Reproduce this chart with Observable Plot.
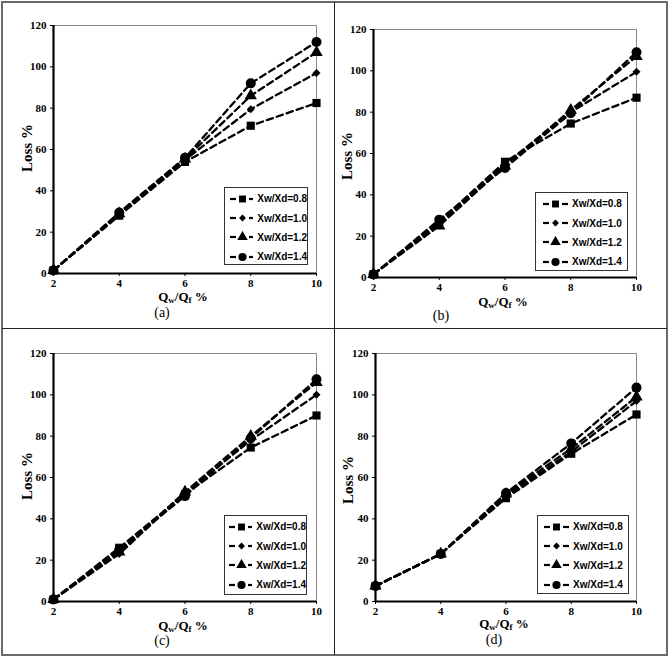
<!DOCTYPE html>
<html>
<head>
<meta charset="utf-8">
<script src="https://cdn.jsdelivr.net/npm/d3@7"></script>
<script src="https://cdn.jsdelivr.net/npm/@observablehq/plot@0.6"></script>
<style>
  body { margin: 0; background: #fff; }
  #root { position: relative; width: 669px; height: 657px; background: #fff; overflow: hidden; }
  .border { position: absolute; box-sizing: border-box; }
  .ylab { position: absolute; font-family: "Liberation Serif", "Times New Roman", serif; font-weight: bold; font-size: 15px; transform: translate(-50%, -50%) rotate(-90deg); white-space: nowrap; color: #000; }
  .xlab { position: absolute; font-family: "Liberation Serif", "Times New Roman", serif; font-weight: bold; font-size: 13px; transform: translate(-50%, -50%); white-space: nowrap; color: #000; }
  .xlab sub { font-size: 9px; vertical-align: -2px; }
  .cap { position: absolute; font-family: "Liberation Serif", "Times New Roman", serif; font-size: 14px; transform: translate(-50%, -50%); white-space: nowrap; color: #000; }
  .legend { position: absolute; box-sizing: border-box; border: 1px solid #333; background: #fff; padding-top: 1px; }
  .lrow { display: flex; align-items: center; height: 19.4px; font-family: "Liberation Sans", Arial, sans-serif; font-weight: bold; font-size: 10px; color: #000; white-space: nowrap; }
  .lrow svg { display: block; margin-right: 4px; }
</style>
</head>
<body>
<div id="root"></div>
<script>
// ---------- data ----------
const xValues = [2, 4, 6, 8, 10];
const yTicks = [0, 20, 40, 60, 80, 100, 120];
const seriesNames = ["Xw/Xd=0.8", "Xw/Xd=1.0", "Xw/Xd=1.2", "Xw/Xd=1.4"];
const panelNames = ["(a)", "(b)", "(c)", "(d)"];
const lossA = [
  [1.5, 28, 54, 71.5, 82.5],
  [1.5, 28.5, 55, 79.5, 97],
  [1.5, 29, 55.5, 86, 107],
  [1.5, 29.5, 56, 92, 112]
];
const lossB = [
  [1.5, 27, 56, 74.5, 87],
  [1.5, 26, 55, 80, 99.5],
  [1.5, 25, 54, 81, 107],
  [1.5, 28, 53, 79.5, 109]
];
const lossC = [
  [1, 26, 52, 74.5, 90],
  [1, 23, 52.5, 78, 100],
  [1, 24, 53, 80, 106],
  [1, 25, 51, 79, 107.5]
];
const lossD = [
  [7.5, 23, 50, 71.5, 90.5],
  [7.5, 23, 51, 72.5, 97],
  [7.5, 23, 52, 74, 99],
  [7.5, 23, 52.5, 76.5, 103.5]
];

// ---------- styling ----------
const symbols = [d3.symbolSquare, d3.symbolDiamond2, d3.symbolTriangle, d3.symbolCircle];
const radii = [4.6, 3.6, 4.6, 5];
const legendRadii = [3.9, 3.1, 3.9, 4.1];

// ---------- layout ----------
const layouts = [
  { loss: lossA, frame: {x: 53, y: 25, w: 263, h: 248}, yLab: {x: 27, y: 148}, xLab: {x: 183, y: 297}, cap: {x: 162, y: 313}, legend: {x: 224, y: 187, w: 84, h: 78, pad: 5} },
  { loss: lossB, frame: {x: 373, y: 29, w: 263, h: 248}, yLab: {x: 347, y: 156}, xLab: {x: 503, y: 302}, cap: {x: 441, y: 316}, legend: {x: 535, y: 192, w: 93, h: 79, pad: 7} },
  { loss: lossC, frame: {x: 53, y: 353, w: 263, h: 248}, yLab: {x: 27, y: 476}, xLab: {x: 183, y: 626}, cap: {x: 162, y: 641}, legend: {x: 224, y: 515, w: 83, h: 80, pad: 4} },
  { loss: lossD, frame: {x: 375, y: 353, w: 261, h: 248}, yLab: {x: 348, y: 480}, xLab: {x: 504, y: 624}, cap: {x: 494, y: 640}, legend: {x: 537, y: 515, w: 92, h: 79, pad: 6} }
];

const root = document.getElementById("root");

function addDiv(cls, css) {
  const d = document.createElement("div");
  d.className = cls;
  Object.assign(d.style, css);
  root.appendChild(d);
  return d;
}
// outer frame and dividers
addDiv("border", {left: "1px", top: "1px", width: "667px", height: "655px", border: "2px solid #6a6a6a"});
addDiv("border", {left: "334px", top: "2px", width: "1px", height: "653px", background: "#222"});
addDiv("border", {left: "2px", top: "328px", width: "665px", height: "1px", background: "#222"});

function glyph(s) {
  const svg = d3.create("svg").attr("width", 25).attr("height", 12);
  svg.append("line").attr("x1", 0).attr("x2", 6).attr("y1", 6).attr("y2", 6).attr("stroke", "#000").attr("stroke-width", 2.2);
  svg.append("line").attr("x1", 19).attr("x2", 25).attr("y1", 6).attr("y2", 6).attr("stroke", "#000").attr("stroke-width", 2.2);
  svg.append("path").attr("transform", "translate(12.5,6)")
    .attr("d", d3.symbol().type(symbols[s]).size(Math.PI * legendRadii[s] * legendRadii[s])())
    .attr("fill", "#000");
  return svg.node();
}

layouts.forEach((L, p) => {
  const rows = [];
  L.loss.forEach((vals, s) => vals.forEach((v, i) => rows.push({series: seriesNames[s], s, x: xValues[i], y: v})));
  const mL = 45, mR = 10, mT = 10, mB = 24;
  const marks = [
    Plot.frame({stroke: "#8a8a8a", strokeWidth: 1}),
    Plot.axisY({ticks: yTicks, tickSize: 3, tickPadding: 4, label: null, fontWeight: "bold", fontSize: 11}),
    Plot.axisX({ticks: xValues, tickSize: 3, tickPadding: 3, label: null, fontWeight: "bold", fontSize: 11}),
    Plot.ruleX([2], {stroke: "#000", strokeWidth: 2.2}),
    Plot.ruleY([0], {stroke: "#000", strokeWidth: 2.2})
  ];
  seriesNames.forEach((sn, s) => {
    marks.push(Plot.line(rows.filter(r => r.s === s), {x: "x", y: "y", stroke: "#000", strokeWidth: 2.3, strokeDasharray: "6.5,4"}));
  });
  seriesNames.forEach((sn, s) => {
    marks.push(Plot.dot(rows.filter(r => r.s === s), {x: "x", y: "y", symbol: symbols[s], r: radii[s], fill: "#000", stroke: "none"}));
  });
  const plot = Plot.plot({
    width: L.frame.w + mL + mR,
    height: L.frame.h + mT + mB,
    marginLeft: mL, marginRight: mR, marginTop: mT, marginBottom: mB,
    x: {domain: [2, 10]},
    y: {domain: [0, 120]},
    style: {fontFamily: "'Liberation Serif', 'Times New Roman', serif", background: "transparent", overflow: "visible", color: "#000"},
    marks
  });
  plot.style.position = "absolute";
  plot.style.left = (L.frame.x - mL) + "px";
  plot.style.top = (L.frame.y - mT) + "px";
  root.appendChild(plot);

  const yl = addDiv("ylab", {left: L.yLab.x + "px", top: L.yLab.y + "px"});
  yl.textContent = "Loss %";
  const xl = addDiv("xlab", {left: L.xLab.x + "px", top: L.xLab.y + "px"});
  xl.innerHTML = "Q<sub>w</sub>/Q<sub>f</sub> %";
  const cp = addDiv("cap", {left: L.cap.x + "px", top: L.cap.y + "px"});
  cp.textContent = panelNames[p];

  const lg = addDiv("legend", {left: L.legend.x + "px", top: L.legend.y + "px", width: L.legend.w + "px", height: L.legend.h + "px", paddingLeft: L.legend.pad + "px"});
  seriesNames.forEach((sn, s) => {
    const row = document.createElement("div");
    row.className = "lrow";
    row.appendChild(glyph(s));
    const t = document.createElement("span");
    t.textContent = sn;
    row.appendChild(t);
    lg.appendChild(row);
  });
});
</script>
</body>
</html>
